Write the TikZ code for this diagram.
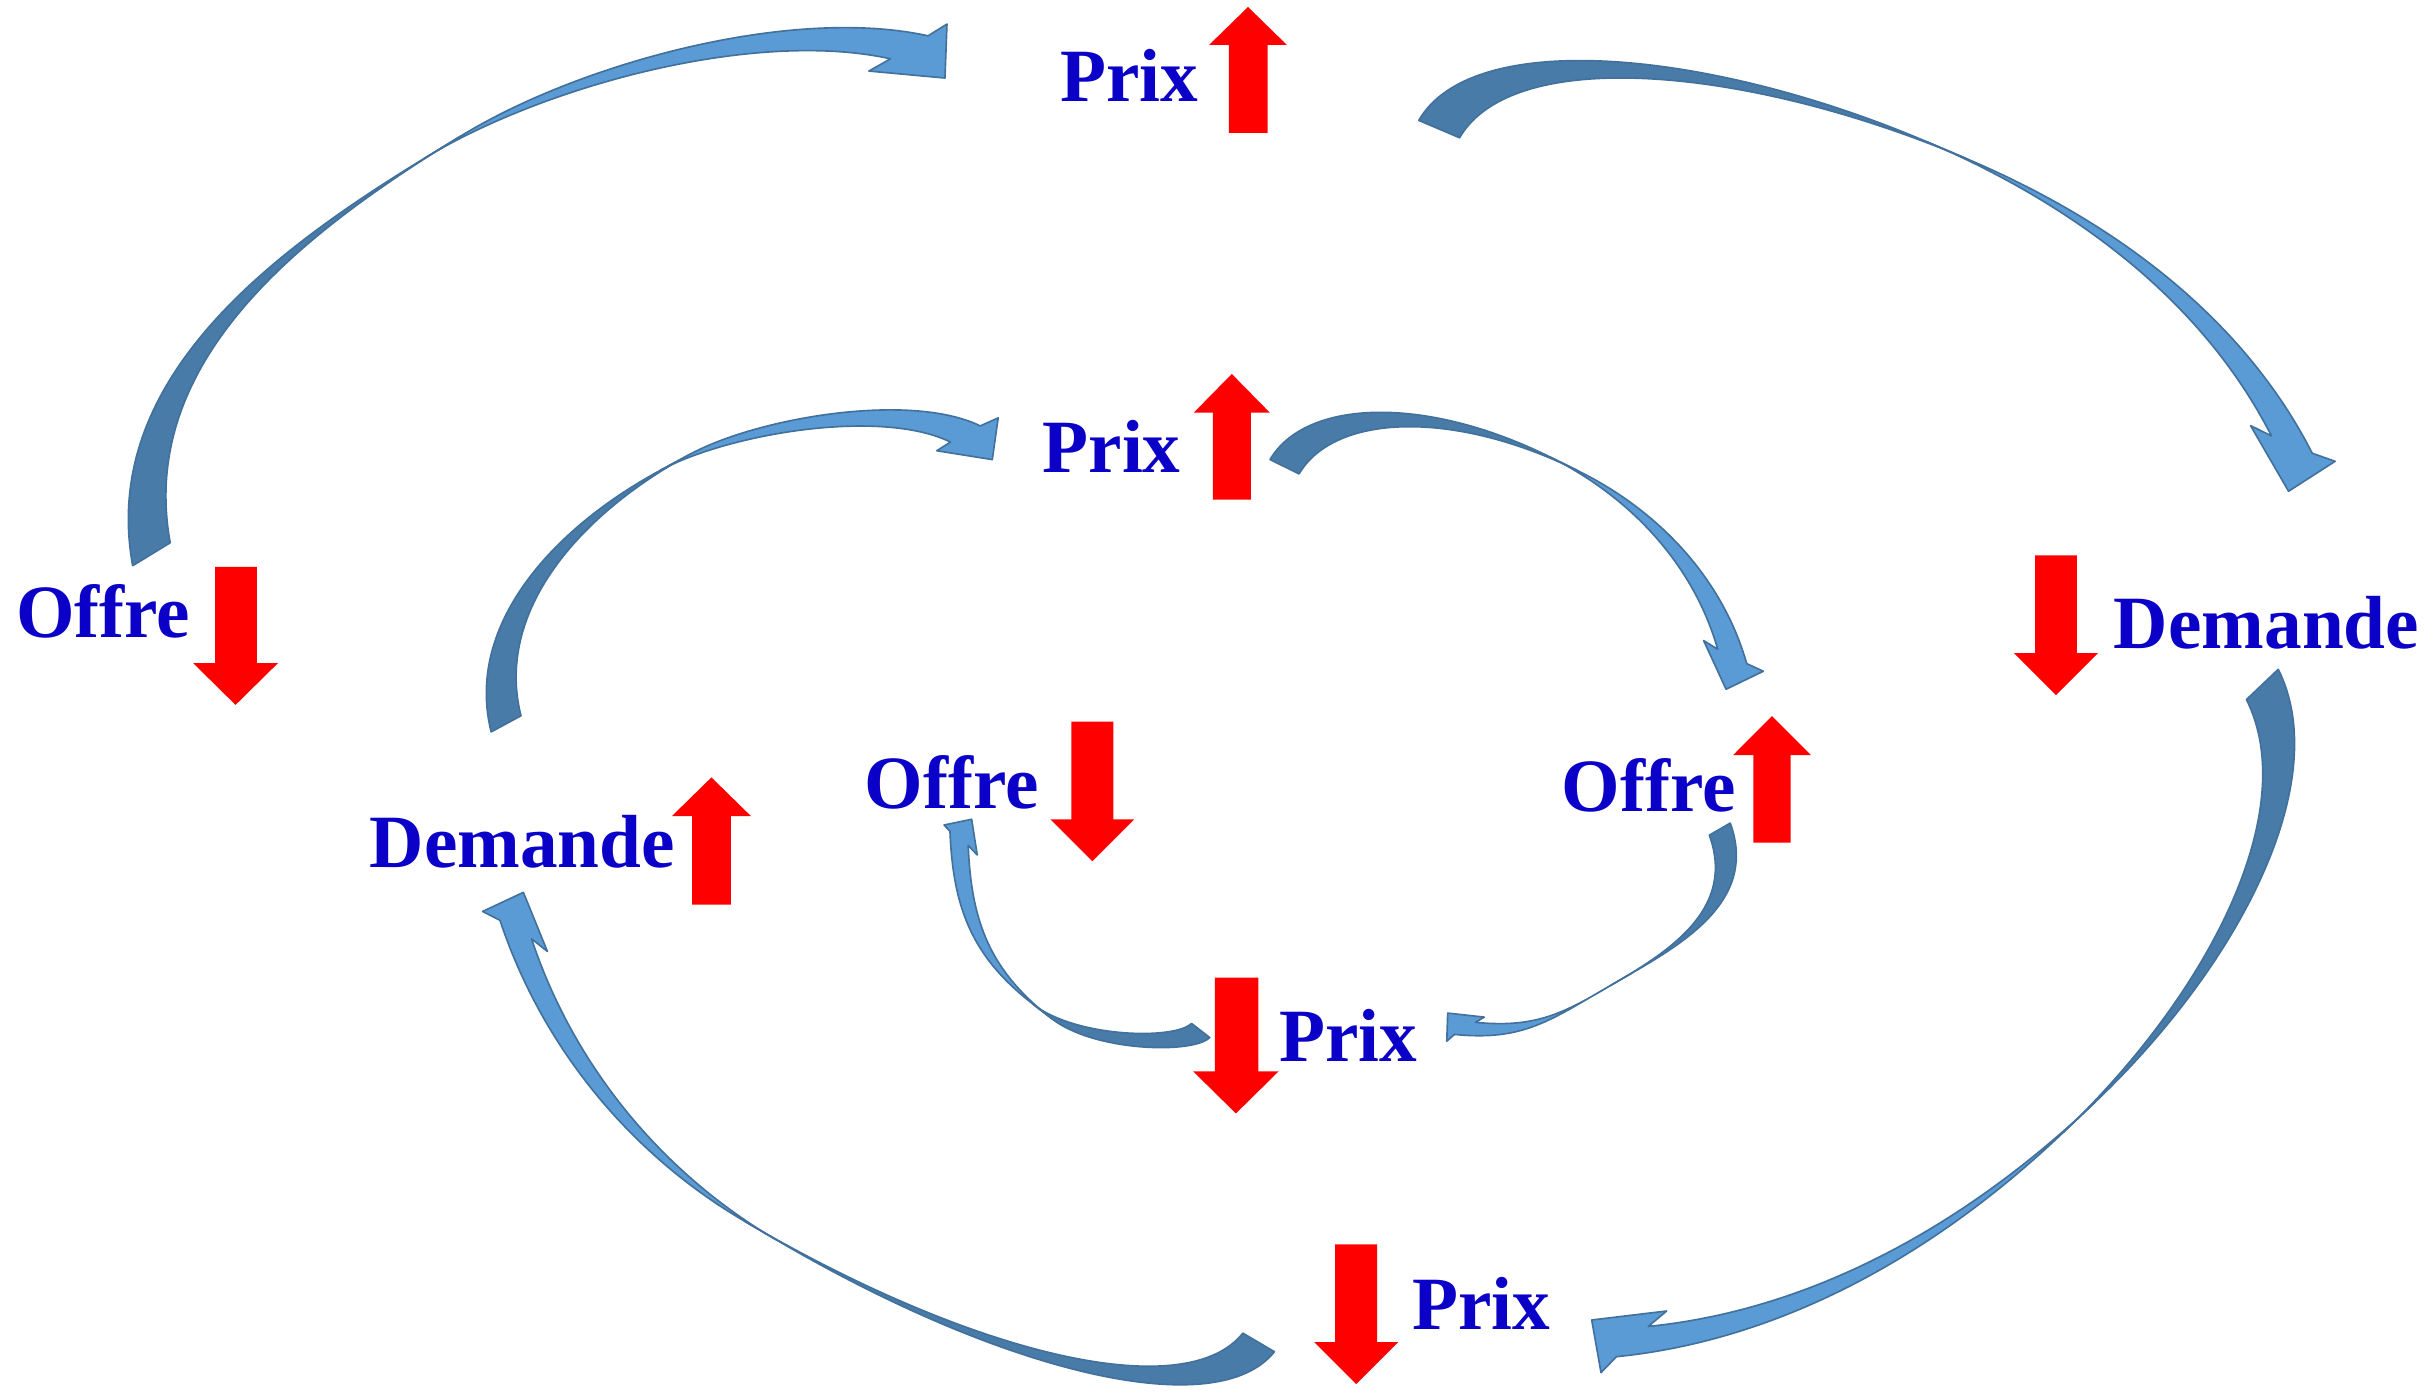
\documentclass[tikz,border=0pt]{standalone}
\usepackage{fontspec}
\setmainfont{Liberation Serif}
\definecolor{lightarr}{HTML}{5B9BD5}
\definecolor{darkarr}{HTML}{487BA8}
\definecolor{edgearr}{HTML}{41719C}
\definecolor{lblue}{HTML}{0A00C8}
\tikzset{
  lbl/.style={text=lblue, font=\fontsize{27.6}{30}\selectfont\bfseries, inner sep=0pt, anchor=base west},
  lightpart/.style={fill=lightarr, draw=edgearr, line width=0.6pt, line join=round},
  darkpart/.style={fill=darkarr, draw=edgearr, line width=0.6pt, line join=round}
}
% block arrow: head left, head right, shaft left, shaft right, tip y, head base y, shaft end y
\newcommand\blockarrow[7]{%
  \fill[red] (#3,#7) -- (#3,#6) -- (#1,#6) -- ({(#1+#2)/2},#5) -- (#2,#6) -- (#4,#6) -- (#4,#7) -- cycle;}
% twisted curved arrow: centre line c0..cT (back face) and cT..cH (front face),
% the two edges are the centre line shifted by -h and +h; head = w1, tp, w2
\newcommand\twarr[2]{%
  \filldraw[darkpart]
    ([shift={({-(#1)},{-(#2)})}]c0) .. controls ([shift={({-(#1)},{-(#2)})}]c1) and ([shift={({-(#1)},{-(#2)})}]c2) .. ([shift={({-(#1)},{-(#2)})}]cT)
    -- ([shift={(#1,#2)}]cT) .. controls ([shift={(#1,#2)}]c2) and ([shift={(#1,#2)}]c1) .. ([shift={(#1,#2)}]c0) -- cycle;
  \filldraw[lightpart]
    ([shift={({-(#1)},{-(#2)})}]cT) .. controls ([shift={({-(#1)},{-(#2)})}]c4) and ([shift={({-(#1)},{-(#2)})}]c5) .. ([shift={({-(#1)},{-(#2)})}]cH)
    -- (w1) -- (tp) -- (w2)
    -- ([shift={(#1,#2)}]cH) .. controls ([shift={(#1,#2)}]c5) and ([shift={(#1,#2)}]c4) .. ([shift={(#1,#2)}]cT) -- cycle;}
\begin{document}
\begin{tikzpicture}[x=0.2mm, y=-0.2mm]
\useasboundingbox (0,0) rectangle (1568,898);

% ---------- Arrow A : Offre (left) -> Prix (top)
\coordinate (c0) at (97.6,357.2); \coordinate (c1) at (76,239); \coordinate (c2) at (184.3,156.6);
\coordinate (cT) at (285,95); \coordinate (c4) at (361.8,48); \coordinate (c5) at (498.1,11.1);
\coordinate (cH) at (586,30.5);
\coordinate (w1) at (560,45.8); \coordinate (tp) at (609,50.3); \coordinate (w2) at (610.3,15.5);
\twarr{12.1}{-7.4}

% ---------- Arrow B : Prix (top) -> Demande (right)
\coordinate (c0) at (927.5,83.2); \coordinate (c1) at (962.5,22.6); \coordinate (c2) at (1117,38.2);
\coordinate (cT) at (1255,97); \coordinate (c4) at (1347,136.2); \coordinate (c5) at (1431.6,197.4);
\coordinate (cH) at (1477,286.5);
\coordinate (w1) at (1450.4,274.3); \coordinate (tp) at (1474.9,316.6); \coordinate (w2) at (1504.9,297.3);
\twarr{13.15}{5.6}

% ---------- Arrow C : Demande (right) -> Prix (bottom)
\coordinate (c0) at (1458,441.1); \coordinate (c1) at (1493.8,512.6); \coordinate (c2) at (1434.1,630.4);
\coordinate (cT) at (1340,720); \coordinate (c4) at (1260.4,795.8); \coordinate (c5) at (1161.5,853.6);
\coordinate (cH) at (1052,864.6);
\coordinate (w1) at (1074.1,844.9); \coordinate (tp) at (1025.8,850.7); \coordinate (w2) at (1031.8,884.6);
\twarr{-10.25}{9.75}

% ---------- Arrow D : Prix (bottom) -> Demande (left)
\coordinate (c0) at (811.15,865.15); \coordinate (c1) at (773.95,911.95); \coordinate (c2) at (636.5,879);
\coordinate (cT) at (490,793); \coordinate (c4) at (416,749.6); \coordinate (c5) at (359.4,680.5);
\coordinate (cH) at (332.4,599.1);
\coordinate (w1) at (352.8,613.2); \coordinate (tp) at (337.3,575.1); \coordinate (w2) at (311.0,587.4);
\twarr{-10.175}{-5.975}

% ---------- Arrow E : Demande (left) -> Prix (second)
\coordinate (c0) at (326.15,466.5); \coordinate (c1) at (309,398.6); \coordinate (c2) at (364.7,336.1);
\coordinate (cT) at (435,298); \coordinate (c4) at (479,274.2); \coordinate (c5) at (577.3,257.7);
\coordinate (cH) at (622.15,279.7);
\coordinate (w1) at (603.7,290.5); \coordinate (tp) at (639.5,296.2); \coordinate (w2) at (643.3,269.3);
\twarr{9.6}{-5.2}

% ---------- Arrow F : Prix (second) -> Offre (centre right)
\coordinate (c0) at (827.85,300.8); \coordinate (c1) at (850.65,262); \coordinate (c2) at (927.4,259.1);
\coordinate (cT) at (1008,299); \coordinate (c4) at (1059.5,324.5); \coordinate (c5) at (1100.6,367.8);
\coordinate (cH) at (1116.35,423.05);
\coordinate (w1) at (1097.9,412.8); \coordinate (tp) at (1112.4,444.2); \coordinate (w2) at (1136.4,432.6);
\twarr{9.35}{4.625}

% ---------- Arrow G : Prix (lower centre) -> Offre (centre left)
\coordinate (c0) at (773.75,664.1); \coordinate (c1) at (763.25,674.75); \coordinate (c2) at (699.7,673.4);
\coordinate (cT) at (672,652); \coordinate (c4) at (632.45,621.4); \coordinate (c5) at (620.1,590.3);
\coordinate (cH) at (618.1,540.3);
\coordinate (w1) at (629.8,551); \coordinate (tp) at (626.2,528); \coordinate (w2) at (608.4,531.7);
\twarr{-5.875}{-4.55}

% ---------- Arrow H : Offre (centre right) -> Prix (lower centre)
\coordinate (c0) at (1108.35,534.35); \coordinate (c1) at (1125.35,581.35); \coordinate (c2) at (1084,608.5);
\coordinate (cT) at (1045,631); \coordinate (c4) at (1006,653.5); \coordinate (c5) at (988.7,667.25);
\coordinate (cH) at (944.15,662.75);
\coordinate (w1) at (956.6,655.5); \coordinate (tp) at (933,652.9); \coordinate (w2) at (932.4,671);
\twarr{-6.75}{3.9}

% ---------- red block arrows
\blockarrow{779.2}{829.4}{792}{817}{4.5}{29}{85.7}
\blockarrow{769.3}{818.4}{781.6}{806.2}{241}{266}{322}
\blockarrow{124.4}{179.2}{138.6}{165.6}{454.3}{427.3}{365.4}
\blockarrow{1298}{1352}{1311.5}{1338.5}{448}{421}{358}
\blockarrow{433}{484}{446}{471}{501}{526}{583}
\blockarrow{677}{731}{690.5}{717.5}{555}{528}{465}
\blockarrow{1117}{1167}{1130}{1154}{461.5}{486.6}{543}
\blockarrow{769}{824}{783}{811}{717.6}{690.5}{630}
\blockarrow{847}{901}{860.5}{887.5}{892}{865}{802}

% ---------- labels
\node[lbl] (p1) at (683,65.5) {Prix};
\node[lbl] (p2) at (671.6,304.7) {Prix};
\node[lbl] (o1) at (10,411) {Offre};
\node[lbl] (d1) at (1362,418) {Demande};
\node[lbl] (d2) at (238,559) {Demande};
\node[lbl] (o2) at (557,521) {Offre};
\node[lbl] (o3) at (1006,523) {Offre};
\node[lbl] (p3) at (824,684) {Prix};
\node[lbl] (p4) at (910,857) {Prix};
\end{tikzpicture}
\end{document}
